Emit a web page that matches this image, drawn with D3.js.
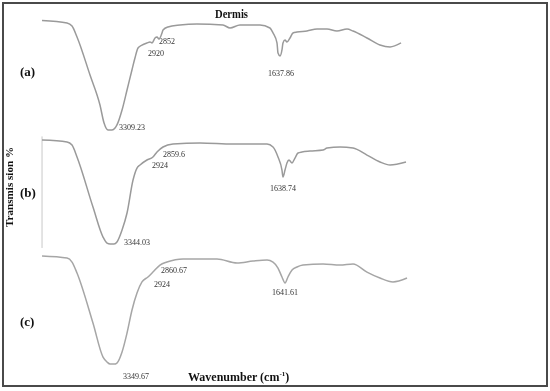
<!DOCTYPE html>
<html>
<head>
<meta charset="utf-8">
<script src="https://cdn.jsdelivr.net/npm/d3@7"></script>
<style>
  html, body { margin: 0; padding: 0; background: #fff; }
  svg { display: block; filter: grayscale(1); }
</style>
</head>
<body>
<svg id="chart" width="550" height="391"></svg>
<script>
// ---- data (wavenumber cm-1, transmission %) ----
const panelNames = ["(a)", "(b)", "(c)"];

const spectrumA = [
  [3980,97.8],[3734,95.7],[3685,93.0],[3636,83.5],[3508,50.4],[3410,24.3],[3370,8.7],
  [3331,2.6],[3292,2.6],[3262,4.3],[3243,7.0],[3193,20.0],[3144,37.4],[3095,55.0],[3066,65.2],
  [3036,73.9],[2997,76.5],[2948,78.3],[2918,79.1],[2898,78.3],[2869,82.6],[2849,83.5],
  [2830,81.7],[2800,87.0],[2790,89.6],[2741,92.2],[2623,93.9],[2456,94.8],[2200,93.9],
  [2131,91.3],[2033,93.9],[1836,93.9],[1738,91.3],[1708,87.0],[1669,78.3],[1659,69.6],
  [1639,67.0],[1620,72.2],[1610,78.3],[1590,80.9],[1571,79.1],[1541,82.6],[1512,87.0],
  [1472,87.8],[1374,88.7],[1275,90.4],[1177,90.4],[1079,88.7],[980,90.4],[921,88.7],
  [784,82.6],[656,76.5],[557,74.8],[449,78.3]
];
const spectrumB = [
  [3980,97.4],[3734,95.7],[3685,93.0],[3636,82.6],[3479,39.1],[3380,13.0],[3341,7.8],
  [3311,7.0],[3272,7.0],[3243,8.7],[3193,19.1],[3144,33.9],[3085,62.6],[3046,73.0],
  [3016,75.7],[2948,80.0],[2889,82.6],[2849,87.0],[2790,91.3],[2692,93.9],[2426,94.8],
  [2102,93.9],[1905,93.9],[1767,93.9],[1708,91.3],[1659,82.6],[1620,71.3],[1610,65.2],
  [1590,71.3],[1571,77.4],[1551,80.0],[1521,77.4],[1492,81.7],[1462,86.1],[1423,87.0],
  [1344,87.8],[1216,88.7],[1177,90.4],[1049,91.3],[921,90.4],[784,84.3],[656,78.3],
  [557,75.7],[400,78.3]
];
const spectrumC = [
  [3980,98.3],[3734,96.5],[3685,93.0],[3636,83.5],[3479,40.0],[3380,10.4],[3341,6.1],
  [3311,4.3],[3272,4.3],[3243,5.2],[3193,14.8],[3144,31.3],[3095,51.3],[3046,66.1],
  [2997,75.7],[2938,80.0],[2889,84.3],[2820,90.4],[2751,93.0],[2593,95.7],[2259,95.7],
  [2062,92.2],[1905,93.9],[1767,94.8],[1708,93.0],[1659,87.8],[1620,80.0],[1590,74.8],
  [1561,80.0],[1521,86.1],[1472,88.7],[1413,90.4],[1216,91.3],[1049,90.4],[921,91.3],
  [784,84.3],[656,79.1],[528,75.7],[390,79.1]
];

// peak labels: [text, wavenumber at text start, transmission at text baseline]
const labelsA = [["3309.23",3223,2.6],["2920",2938,67.0],["2852",2830,77.4],["1637.86",1757,49.6]];
const labelsB = [["3344.03",3174,6.1],["2924",2898,73.0],["2859.6",2790,82.6],["1638.74",1738,53.0]];
const labelsC = [["3349.67",3184,-8.7],["2924",2879,71.3],["2860.67",2810,83.5],["1641.61",1718,64.3]];

const titleText = "Dermis";
const xTitle = "Wavenumber (cm";
const yTitle = "Transmis sion  %";

// ---- layout ----
const svg = d3.select("#chart");
const serif = "'Liberation Serif', 'Times New Roman', serif";

const x = d3.scaleLinear().domain([4000, 400]).range([40, 406]);
const panelTops = [18, 137, 254];
const panelH = 115;
const yScales = panelTops.map(t => d3.scaleLinear().domain([0, 100]).range([t + panelH, t]));

const spectra = [spectrumA, spectrumB, spectrumC];
const labels = [labelsA, labelsB, labelsC];

// frame
svg.append("rect").attr("x", 3).attr("y", 3).attr("width", 544).attr("height", 383)
  .attr("fill", "none").attr("stroke", "#4a4a4a").attr("stroke-width", 2);

// faint left axis of panel (b)
svg.append("line")
  .attr("x1", x(3980)).attr("x2", x(3980))
  .attr("y1", yScales[1](100.5)).attr("y2", yScales[1](3.5))
  .attr("stroke", "#c8c8c8").attr("stroke-width", 1);

const textLayer = svg.append("g");

spectra.forEach((data, i) => {
  const y = yScales[i];
  const line = d3.line().x(d => x(d[0])).y(d => y(d[1])).curve(d3.curveMonotoneX);
  svg.append("path").datum(data).attr("d", line)
    .attr("fill", "none")
    .attr("stroke", i === 2 ? "#a6a6a6" : "#9a9a9a")
    .attr("stroke-width", 1.5)
    .attr("stroke-linejoin", "round");

  textLayer.selectAll(null).data(labels[i]).enter().append("text")
    .attr("x", d => x(d[1])).attr("y", d => y(d[2]))
    .attr("font-family", serif).attr("font-size", 8).attr("fill", "#333")
    .text(d => d[0]);
});

// panel letters
const letterY = [76, 197, 326];
panelNames.forEach((n, i) => {
  textLayer.append("text").attr("x", 20).attr("y", letterY[i])
    .attr("font-family", serif).attr("font-weight", "bold").attr("font-size", 13)
    .attr("fill", "#111").text(n);
});

// title
textLayer.append("text").attr("x", 215).attr("y", 18)
  .attr("font-family", serif).attr("font-weight", "bold").attr("font-size", 12)
  .attr("textLength", 33).attr("lengthAdjust", "spacingAndGlyphs")
  .attr("fill", "#111").text(titleText);

// x title
const xt = textLayer.append("text").attr("x", 188).attr("y", 381)
  .attr("font-family", serif).attr("font-weight", "bold").attr("font-size", 12)
  .attr("fill", "#111");
xt.append("tspan").text(xTitle);
xt.append("tspan").attr("font-size", 7).attr("dy", -5).text("-1");
xt.append("tspan").attr("dy", 5).text(")");

// y title
textLayer.append("text")
  .attr("transform", "translate(13,227) rotate(-90)")
  .attr("font-family", serif).attr("font-weight", "bold").attr("font-size", 11)
  .attr("textLength", 80).attr("lengthAdjust", "spacingAndGlyphs")
  .attr("fill", "#111").text(yTitle);
</script>
</body>
</html>
